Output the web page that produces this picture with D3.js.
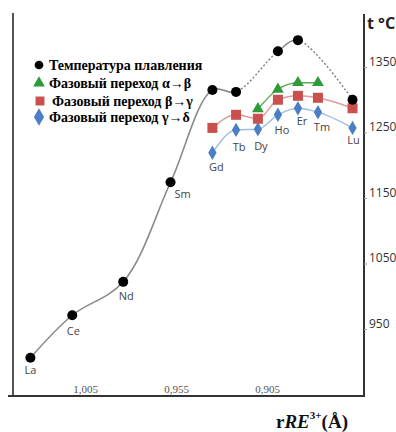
<!DOCTYPE html>
<html>
<head>
<meta charset="utf-8">
<script src="https://cdn.jsdelivr.net/npm/d3@7"></script>
<style>
  body { margin: 0; background: #fff; }
  svg { display: block; }
</style>
</head>
<body>
<div id="chart"></div>
<script>
// element labels and ionic radii
var elements = ["La", "Ce", "Nd", "Sm", "Gd", "Tb", "Dy", "Ho", "Er", "Tm", "Lu"];
var radii = [1.035, 1.012, 0.984, 0.958, 0.935, 0.922, 0.910, 0.899, 0.888, 0.877, 0.858];

// temperatures, °C (null = no point)
var melting    = [906, 971, 1022, 1174, 1315, 1312, null, 1374, 1391, null, 1300];
var alphaBeta  = [null, null, null, null, null, null, 1286, 1316, 1326, 1326, null];
var betaGamma  = [null, null, null, null, 1257, 1277, 1271, 1300, 1306, 1303, 1287];
var gammaDelta = [null, null, null, null, 1219, 1254, 1255, 1277, 1287, 1281, 1257];

var xTicks = [1.005, 0.955, 0.905];
var yTicks = [950, 1050, 1150, 1250, 1350];

var legendLabels = [
    "Температура плавления",
    "Фазовый переход α→β",
    "Фазовый переход β→γ",
    "Фазовый переход γ→δ"
];

var W = 396, H = 432;
var SERIF = "'Liberation Serif', 'Times New Roman', serif";
var SANS = "'Open Sans', sans-serif";

var svg = d3.select("#chart").append("svg")
    .attr("width", W)
    .attr("height", H);

// scales
var x = d3.scaleLinear().domain([1.005, 0.905]).range([85, 267]);
var y = d3.scaleLinear().domain([950, 1350]).range([329, 67]);

var locale = d3.formatLocale({decimal: ",", thousands: " ", grouping: [3], currency: ["", ""]});
var fmtX = locale.format(".3f");

// frame lines
svg.append("line").attr("x1", 13).attr("x2", 13).attr("y1", 13).attr("y2", 396)
    .attr("stroke", "#555").attr("stroke-width", 2);
svg.append("line").attr("x1", 364).attr("x2", 364).attr("y1", 14).attr("y2", 396)
    .attr("stroke", "#333").attr("stroke-width", 2);
svg.append("line").attr("x1", 8).attr("x2", 365).attr("y1", 396).attr("y2", 396)
    .attr("stroke", "#333").attr("stroke-width", 2);

// x axis labels (inside, above bottom line)
var xAxis = svg.append("g")
    .attr("transform", "translate(0,395)")
    .call(d3.axisTop(x).tickValues(xTicks).tickFormat(fmtX).tickSize(0).tickPadding(2));
xAxis.select(".domain").remove();
xAxis.selectAll("text")
    .style("font-family", SERIF)
    .attr("font-size", 11)
    .attr("fill", "#555");

// y axis on right
var yAxis = svg.append("g")
    .attr("transform", "translate(364,0)")
    .call(d3.axisRight(y).tickValues(yTicks).tickFormat(d3.format("d")).tickSize(3).tickPadding(2));
yAxis.select(".domain").remove();
yAxis.selectAll(".tick line").attr("stroke", "#999");
yAxis.selectAll("text")
    .attr("dy", "-0.15em")
    .style("font-family", SANS)
    .attr("font-size", 12)
    .attr("fill", "#333");

// axis titles
svg.append("text")
    .attr("x", 367).attr("y", 29)
    .style("font-family", SANS)
    .attr("font-weight", "bold")
    .attr("font-size", 16)
    .attr("fill", "#222")
    .text("t °C");

var xt = svg.append("text")
    .attr("x", 276).attr("y", 428)
    .style("font-family", SERIF)
    .attr("font-weight", "bold")
    .attr("font-size", 19)
    .attr("fill", "#111");
xt.append("tspan").text("r");
xt.append("tspan").attr("font-style", "italic").text("RE");
xt.append("tspan").attr("font-size", 11).attr("dy", -9).text("3+");
xt.append("tspan").attr("dy", 9).text("(Å)");

// build point lists
function pts(vals) {
    var out = [];
    vals.forEach(function (v, i) {
        if (v !== null) out.push({name: elements[i], r: radii[i], t: v});
    });
    return out;
}

var line = d3.line()
    .x(function (d) { return x(d.r); })
    .y(function (d) { return y(d.t); })
    .curve(d3.curveCatmullRom.alpha(0.5));

// melting curve: solid where measured continuously, dashed across gaps
var mPts = pts(melting);
var defs = svg.append("defs");
function xOf(name) { return x(radii[elements.indexOf(name)]); }
defs.append("clipPath").attr("id", "solidClip").selectAll("rect")
    .data([[0, xOf("Tb")], [xOf("Ho"), xOf("Er")]])
    .enter().append("rect")
    .attr("x", function (d) { return d[0]; }).attr("width", function (d) { return d[1] - d[0]; })
    .attr("y", 0).attr("height", H);
defs.append("clipPath").attr("id", "dashClip").selectAll("rect")
    .data([[xOf("Tb"), xOf("Ho")], [xOf("Er"), W]])
    .enter().append("rect")
    .attr("x", function (d) { return d[0]; }).attr("width", function (d) { return d[1] - d[0]; })
    .attr("y", 0).attr("height", H);

svg.append("path").datum(mPts)
    .attr("d", line).attr("fill", "none")
    .attr("stroke", "#8a8a8a").attr("stroke-width", 1.6)
    .attr("clip-path", "url(#solidClip)");
svg.append("path").datum(mPts)
    .attr("d", line).attr("fill", "none")
    .attr("stroke", "#777").attr("stroke-width", 1.3)
    .attr("stroke-dasharray", "2,2")
    .attr("clip-path", "url(#dashClip)");

// phase transition lines
var series = [
    {vals: alphaBeta,  line: "#5ea955", fill: "#2f9a3a", sym: d3.symbolTriangle, size: 60},
    {vals: betaGamma,  line: "#e39a9a", fill: "#c9504f", sym: d3.symbolSquare, size: 100},
    {vals: gammaDelta, line: "#9dbde0", fill: "#4a7fc4", sym: d3.symbolDiamond, size: 60}
];

var straight = d3.line()
    .x(function (d) { return x(d.r); })
    .y(function (d) { return y(d.t); })
    .curve(d3.curveMonotoneX);

series.forEach(function (s) {
    var p = pts(s.vals);
    svg.append("path").datum(p)
        .attr("d", straight).attr("fill", "none")
        .attr("stroke", s.line).attr("stroke-width", 1.4);
});

series.slice().reverse().forEach(function (s) {
    var p = pts(s.vals);
    svg.selectAll(null).data(p).enter().append("path")
        .attr("transform", function (d) { return "translate(" + x(d.r) + "," + y(d.t) + ")"; })
        .attr("d", d3.symbol().type(s.sym).size(s.size)())
        .attr("fill", s.fill);
});

svg.selectAll(".melt").data(mPts).enter().append("circle")
    .attr("class", "melt")
    .attr("cx", function (d) { return x(d.r); })
    .attr("cy", function (d) { return y(d.t); })
    .attr("r", 5)
    .attr("fill", "#000");

// element labels: under the melting point for light elements, under the γ→δ point otherwise
var labelOffset = {
    La: [0, 12], Ce: [1, 16], Nd: [3, 14], Sm: [12, 12],
    Gd: [4, 14], Tb: [3, 17], Dy: [3, 17], Ho: [4, 15], Er: [4, 13], Tm: [4, 15], Lu: [1, 12]
};
elements.forEach(function (e, i) {
    var t = gammaDelta[i] !== null ? gammaDelta[i] : melting[i];
    svg.append("text")
        .attr("x", x(radii[i]) + labelOffset[e][0])
        .attr("y", y(t) + labelOffset[e][1])
        .attr("dy", "0.35em")
        .attr("text-anchor", "middle")
        .style("font-family", SANS)
        .attr("font-size", 11)
        .attr("fill", "#444")
        .text(e);
});

// legend
var legendSyms = [
    {sym: d3.symbolCircle, size: 60, fill: "#000"},
    {sym: d3.symbolTriangle, size: 60, fill: "#2f9a3a"},
    {sym: d3.symbolSquare, size: 80, fill: "#c9504f"},
    {sym: d3.symbolDiamond, size: 90, fill: "#4a7fc4"}
];
var legendY = [65, 83, 101, 117];
var lg = svg.append("g");
legendLabels.forEach(function (lab, i) {
    lg.append("path")
        .attr("transform", "translate(" + (i === 2 ? 40 : 39) + "," + legendY[i] + ")")
        .attr("d", d3.symbol().type(legendSyms[i].sym).size(legendSyms[i].size)())
        .attr("fill", legendSyms[i].fill);
    lg.append("text")
        .attr("x", i === 2 ? 52 : 49)
        .attr("y", legendY[i])
        .attr("dy", "0.35em")
        .style("font-family", SERIF)
        .attr("font-weight", "bold")
        .attr("font-size", 14)
        .attr("fill", "#000")
        .text(lab);
});
</script>
</body>
</html>
